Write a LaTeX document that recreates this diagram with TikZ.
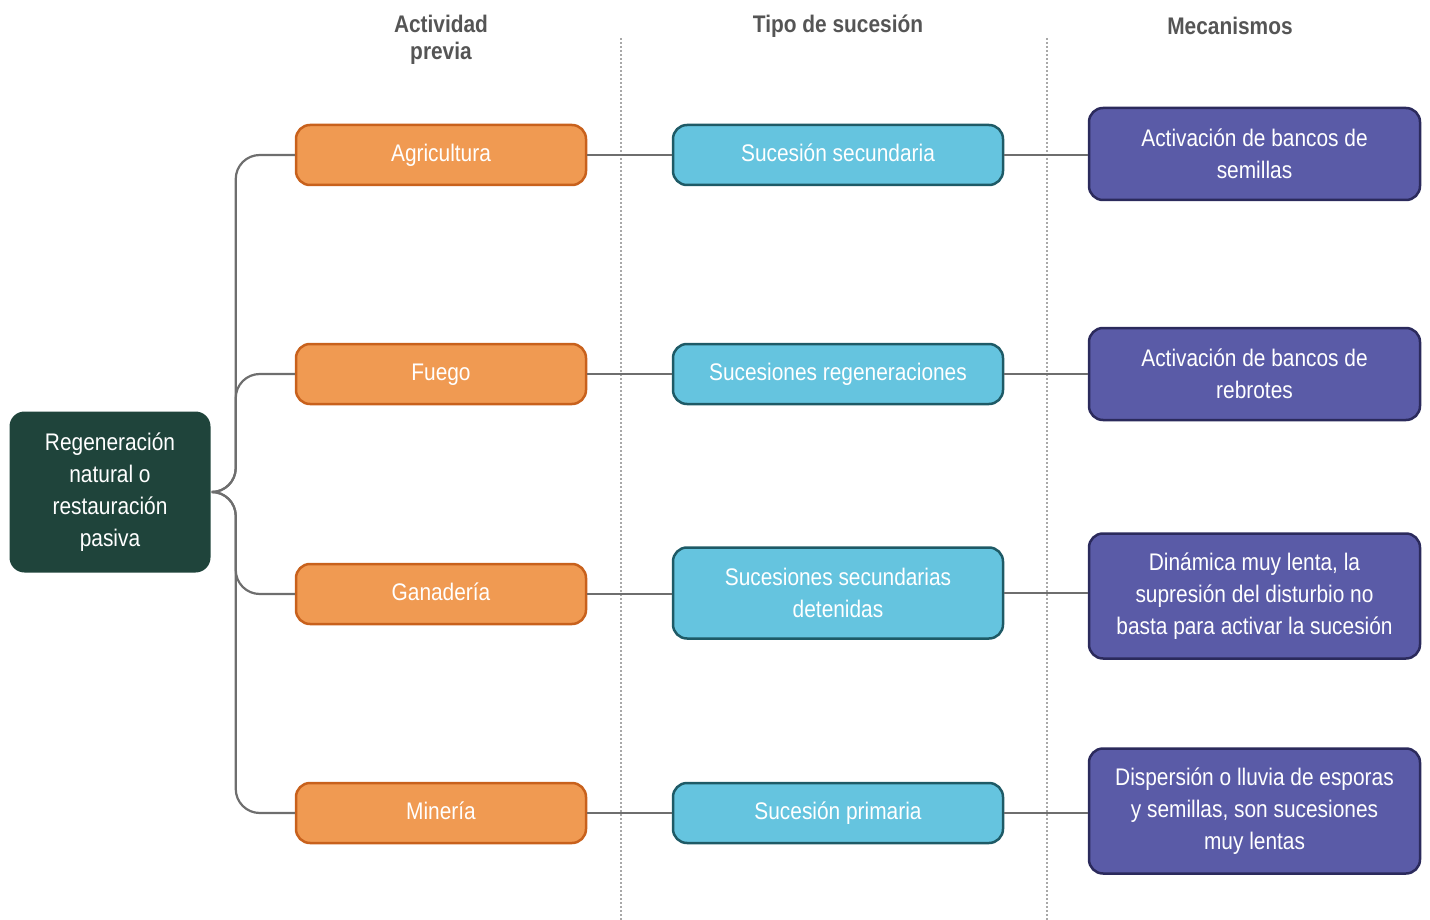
\documentclass[tikz,border=0pt]{standalone}
\usepackage{fontspec}
\setmainfont[FakeStretch=0.87]{Liberation Sans}
\usepackage{tikz}
\usepackage{xcolor}
\definecolor{raizfondo}{HTML}{1F443B}
\definecolor{naranja}{HTML}{F09A52}
\definecolor{naranjaborde}{HTML}{C8611C}
\definecolor{celeste}{HTML}{65C4DF}
\definecolor{celesteborde}{HTML}{1E5A66}
\definecolor{morado}{HTML}{5A5BA7}
\definecolor{moradoborde}{HTML}{2B2A5C}
\definecolor{gristitulo}{HTML}{555555}
\definecolor{grisrama}{HTML}{6E6E6E}
\definecolor{grisdiv}{HTML}{A8A8A8}

\begin{document}
\begin{tikzpicture}[x=1pt,y=-1pt,
  caja/.style={rounded corners=14pt, line width=2.5pt, text=white, align=center,
    font=\fontsize{24}{32}\selectfont, inner sep=0pt},
  unalinea/.style={text height=17pt, text depth=4pt},
  actividad/.style={caja, unalinea, fill=naranja, draw=naranjaborde, minimum width=290pt, minimum height=60pt},
  sucesion/.style={caja, fill=celeste, draw=celesteborde, minimum width=330pt, minimum height=60pt},
  mecanismo/.style={caja, fill=morado, draw=moradoborde, minimum width=331pt, minimum height=92pt},
  titulo/.style={text=gristitulo, font=\bfseries\fontsize{24}{27}\selectfont, align=center},
  rama/.style={draw=grisrama, line width=2.2pt},
  division/.style={draw=grisdiv, line width=2pt, dotted}]
\useasboundingbox (0,0) rectangle (1430,920);
\node[titulo] (tact) at (441,40) {Actividad\\previa};
\node[titulo] (tsuc) at (838,26) {Tipo de sucesión};
\node[titulo] (tmec) at (1230,26) {Mecanismos};
\draw[division] (621,38) -- (621,920);
\draw[division] (1047,38) -- (1047,920);
\node[caja, fill=raizfondo, rounded corners=15pt, minimum width=201pt, minimum height=161pt] (raiz) at (110,492)
  {Regeneración\\natural o\\restauración\\pasiva};
\node[actividad] (agri) at (441,155) {Agricultura};
\node[actividad] (fuego) at (441,374) {Fuego};
\node[actividad] (gana) at (441,594) {Ganadería};
\node[actividad] (mine) at (441,813) {Minería};
\node[sucesion, unalinea] (suc1) at (838,155) {Sucesión secundaria};
\node[sucesion, unalinea] (suc2) at (838,374) {Sucesiones regeneraciones};
\node[sucesion, minimum height=91pt] (suc3) at (838,593) {Sucesiones secundarias\\detenidas};
\node[sucesion, unalinea] (suc4) at (838,813) {Sucesión primaria};
\node[mecanismo] (mec1) at (1254.5,154) {Activación de bancos de\\semillas};
\node[mecanismo] (mec2) at (1254.5,374) {Activación de bancos de\\rebrotes};
\node[mecanismo, minimum height=125pt] (mec3) at (1254.5,596) {Dinámica muy lenta, la\\supresión del disturbio no\\basta para activar la sucesión};
\node[mecanismo, minimum height=125pt] (mec4) at (1254.5,811) {Dispersión o lluvia de esporas\\y semillas, son sucesiones\\muy lentas};
\foreach \n in {agri,fuego,gana,mine}
  \draw[rama, rounded corners=24pt] (raiz.east) -| ([xshift=-59pt]\n.west) -- (\n.west);
\draw[rama] (agri.east) -- (suc1.west);
\draw[rama] (fuego.east) -- (suc2.west);
\draw[rama] (gana.east) -- (gana.east -| suc3.west);
\draw[rama] (mine.east) -- (suc4.west);
\draw[rama] (suc1.east) -- (suc1.east -| mec1.west);
\draw[rama] (suc2.east) -- (suc2.east -| mec2.west);
\draw[rama] (suc3.east) -- (suc3.east -| mec3.west);
\draw[rama] (suc4.east) -- (suc4.east -| mec4.west);
\end{tikzpicture}
\end{document}
